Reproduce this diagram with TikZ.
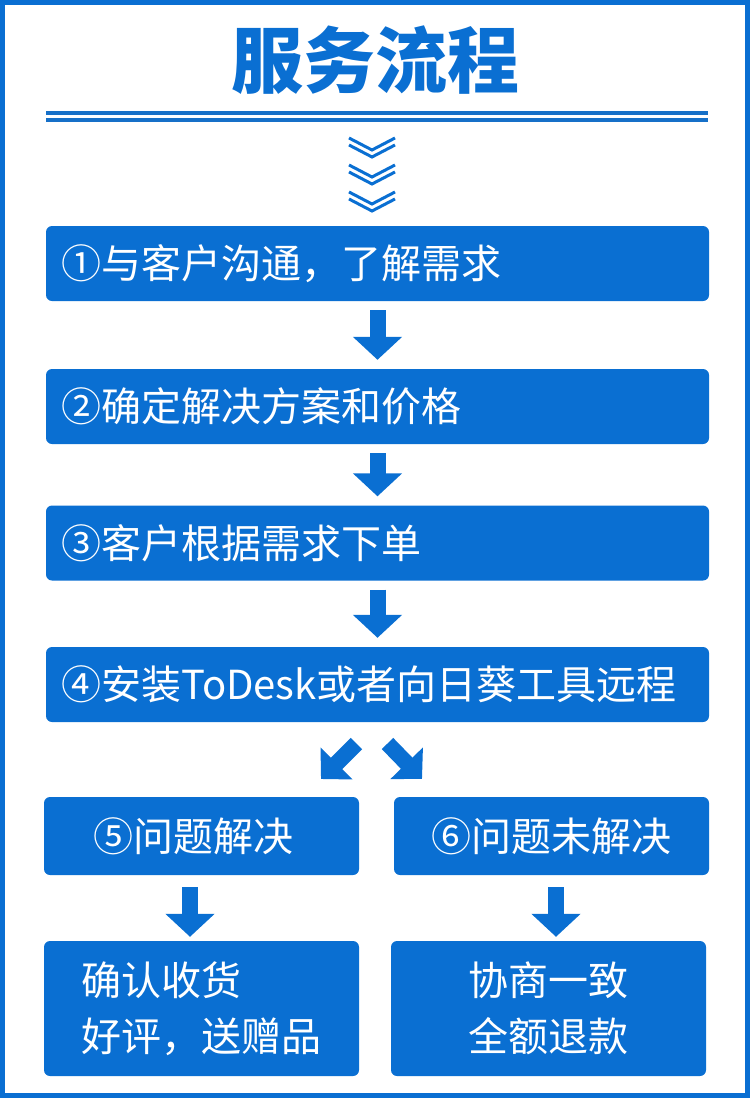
\documentclass[tikz,border=0pt]{standalone}
\usepackage{fontspec}
\usepackage{tikz}
\usetikzlibrary{arrows.meta,positioning}
\newfontfamily\cjk{Noto Sans CJK SC}
\definecolor{flowblue}{RGB}{10,111,210}
\definecolor{ruleblue}{RGB}{22,112,200}

\begin{document}
\begin{tikzpicture}[
  x=1pt, y=-1pt,
  every node/.style={font=\cjk\fontsize{40}{56}\selectfont, text=white, align=center},
  stepbox/.style={fill=flowblue, rounded corners=6pt, minimum height=75pt, inner sep=0pt},
  wide/.style={stepbox, text width=633pt, inner xsep=15pt, align=left},
  half/.style={stepbox, minimum width=315pt, minimum height=78pt},
  result/.style={stepbox, minimum width=315pt, minimum height=135pt},
  bigarrow/.style={draw=flowblue, line width=16pt, -{Triangle[width=48pt,length=23pt]}, shorten <=9pt, shorten >=9pt},
  diagarrow/.style={draw=flowblue, line width=16pt, -{Triangle[width=44pt,length=22pt]}},
  chevron/.style={draw=flowblue, line width=3pt}
]
\useasboundingbox (0,0) rectangle (750,1098);
\draw[flowblue, line width=5pt] (2.5,2.5) rectangle (747.5,1095.5);

\node[font=\cjk\bfseries\fontsize{72}{80}\selectfont, text=flowblue] (title) at (375,60) {服务流程};
\draw[ruleblue, line width=4pt] (46,113) -- (708,113);
\draw[ruleblue, line width=4pt] (46,120) -- (708,120);

\foreach \y in {138,165,192}{
  \foreach \d in {0,7}{
    \draw[chevron] (349,\y+\d) -- (372,\y+\d+12) -- (395,\y+\d);
  }
}

\node[wide] (s1) at (377.5,263.5) {①与客户沟通，了解需求};
\node[wide] (s2) at (377.5,406.5) {②确定解决方案和价格};
\node[wide] (s3) at (377.5,543) {③客户根据需求下单};
\node[wide] (s4) at (377.5,684.5) {④安装ToDesk或者向日葵工具远程};
\node[half] (s5) at (201.5,836) {⑤问题解决\hspace*{16pt}};
\node[half] (s6) at (551.5,836) {⑥问题未解决};
\node[result, align=left] (ok) at (201.5,1008.5) {确认收货\\好评，送赠品};
\node[result] (refund) at (548.5,1008.5) {协商一致\\全额退款};

\draw[bigarrow] (s1) -- (s2);
\draw[bigarrow] (s2) -- (s3);
\draw[bigarrow] (s3) -- (s4);

\coordinate (ltail) at (356.5,743.5);
\coordinate (ltip) at (321,779);
\coordinate (rtail) at (387.5,743.5);
\coordinate (rtip) at (422,779);
\draw[diagarrow] (ltail) -- (ltip);
\draw[diagarrow] (rtail) -- (rtip);

\draw[bigarrow, shorten <=12pt, shorten >=4pt] ([xshift=-11.5pt]s5.south) -- ([xshift=-11.5pt]ok.north);
\draw[bigarrow, shorten <=12pt, shorten >=4pt] ([xshift=4.5pt]s6.south) -- ([xshift=7.5pt]refund.north);
\end{tikzpicture}
\end{document}
